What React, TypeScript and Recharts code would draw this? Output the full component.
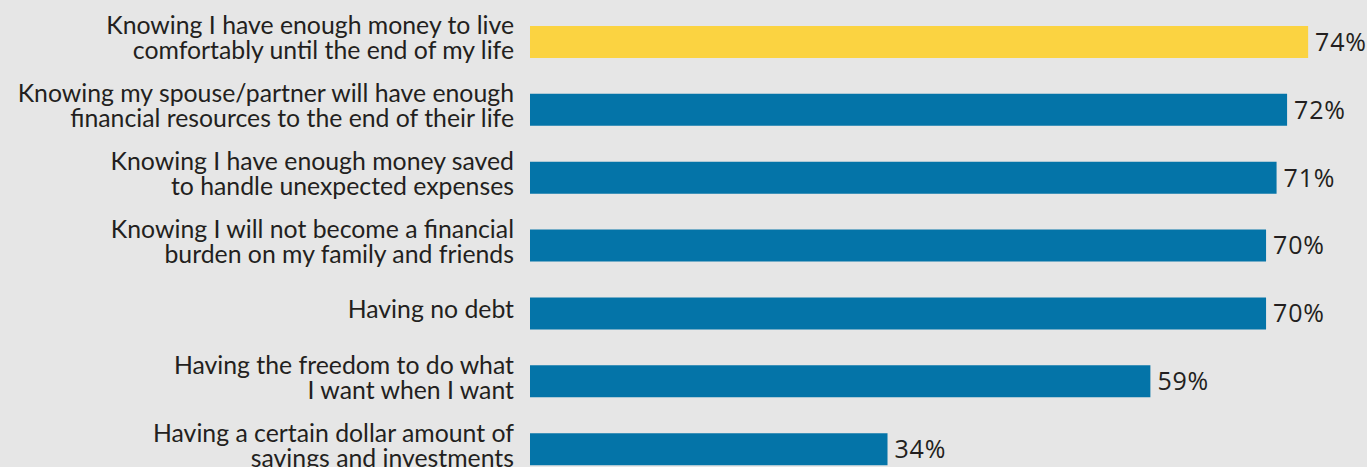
import { BarChart, Bar, XAxis, YAxis, Cell, LabelList } from 'recharts';

// categories (two lines each where the original wraps)
const labelLines: string[][] = [
  ['Knowing I have enough money to live', 'comfortably until the end of my life'],
  ['Knowing my spouse/partner will have enough', 'financial resources to the end of their life'],
  ['Knowing I have enough money saved', 'to handle unexpected expenses'],
  ['Knowing I will not become a financial', 'burden on my family and friends'],
  ['Having no debt'],
  ['Having the freedom to do what', 'I want when I want'],
  ['Having a certain dollar amount of', 'savings and investments'],
];
const values = [74, 72, 71, 70, 70, 59, 34];
const highlight = [true, false, false, false, false, false, false];

const data = labelLines.map((lines, i) => ({
  name: lines.join(' '),
  lines,
  value: values[i],
  highlight: highlight[i],
}));

const FONT = 'Lato, sans-serif';
const TEXT = '#231f20';

function CategoryTick(props: any) {
  const { x, y, index } = props;
  const lines = labelLines[index] || [];
  const lh = 25;
  const first = 5 - ((lines.length - 1) * lh) / 2;
  return (
    <text x={x} y={y} textAnchor="end" fontFamily={FONT} fontSize={24.8} fill={TEXT}>
      {lines.map((l, i) => (
        <tspan key={i} x={x} y={y + first + i * lh}>
          {l}
        </tspan>
      ))}
    </text>
  );
}

export default function App() {
  return (
    <div style={{ position: 'absolute', left: 0, top: 0, width: 1367, height: 467, overflow: 'hidden', background: '#e6e6e6' }}>
      <BarChart
        width={1367}
        height={484}
        data={data}
        layout="vertical"
        margin={{ top: 8, right: 0, bottom: 1, left: 0 }}
      >
        <XAxis type="number" domain={[0, 79.6]} hide />
        <YAxis
          type="category"
          dataKey="name"
          width={530}
          axisLine={false}
          tickLine={false}
          tickMargin={10}
          tick={<CategoryTick />}
          interval={0}
        />
        <Bar dataKey="value" barSize={32} isAnimationActive={false}>
          {data.map((d, i) => (
            <Cell key={i} fill={d.highlight ? '#fbd341' : '#0474a8'} />
          ))}
          <LabelList
            dataKey="value"
            position="right"
            offset={7}
            formatter={(v: any) => `${v}%`}
            style={{ fontFamily: '"Open Sans", sans-serif', fontSize: 25, letterSpacing: 0.8, fill: TEXT }}
          />
        </Bar>
      </BarChart>
    </div>
  );
}
